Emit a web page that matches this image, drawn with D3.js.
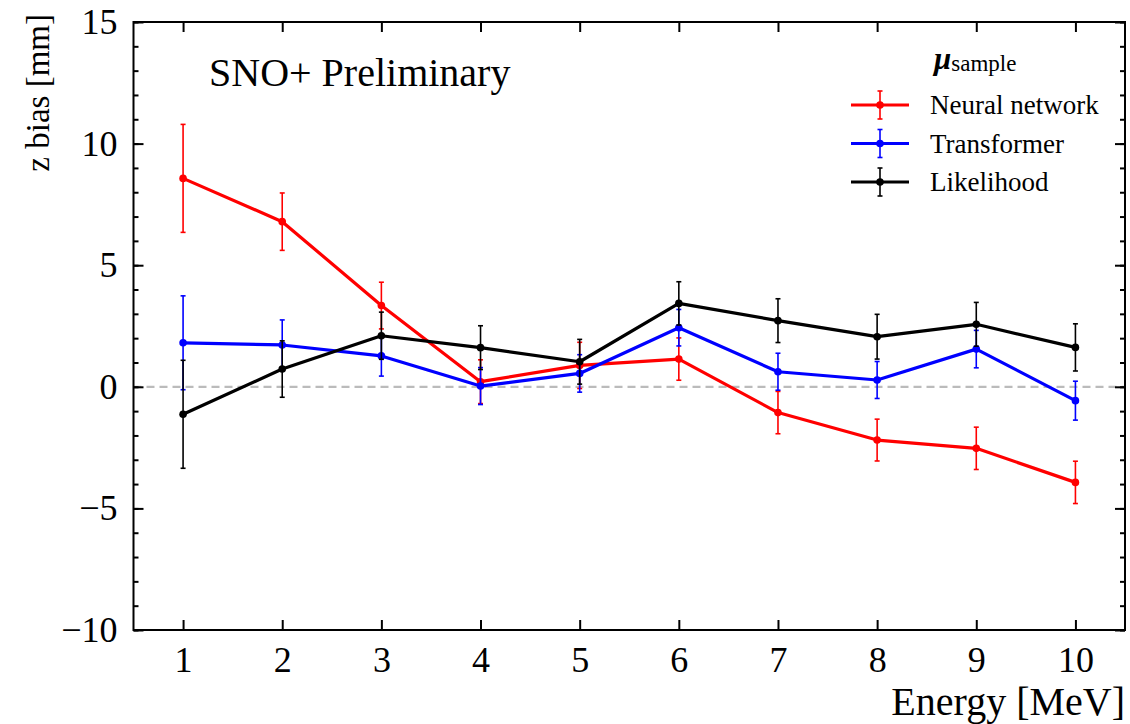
<!DOCTYPE html>
<html><head><meta charset="utf-8">
<script src="https://cdn.jsdelivr.net/npm/d3@7"></script>
<style>
html,body{margin:0;padding:0;background:#fff;}
svg{display:block;}
svg text{font-family:"Liberation Serif","Times New Roman",serif;}
</style></head>
<body><svg id="c" width="1130" height="724"></svg>
<script>
const energy = [1, 2, 3, 4, 5, 6, 7, 8, 9, 10];
const nnVals = [8.57, 6.79, 3.34, 0.21, 0.88, 1.14, -1.06, -2.19, -2.53, -3.93];
const nnErr  = [2.22, 1.18, 0.96, 0.90, 0.95, 0.87, 0.87, 0.86, 0.87, 0.87];
const trVals = [1.81, 1.72, 1.27, 0.03, 0.55, 2.43, 0.62, 0.28, 1.55, -0.57];
const trErr  = [1.93, 1.03, 0.83, 0.76, 0.77, 0.75, 0.76, 0.76, 0.77, 0.80];
const lkVals = [-1.13, 0.73, 2.10, 1.61, 1.03, 3.43, 2.72, 2.06, 2.57, 1.62];
const lkErr  = [2.22, 1.16, 0.97, 0.90, 0.92, 0.89, 0.90, 0.92, 0.90, 0.97];
const seriesNames = ["Neural network", "Transformer", "Likelihood"];
const seriesColors = ["#ff0000", "#0000ff", "#000000"];
const xTicks = [1, 2, 3, 4, 5, 6, 7, 8, 9, 10];
const yTicks = [-10, -5, 0, 5, 10, 15];
const yMinor = d3.range(-10, 15.01, 1);

const series = [
  {name: seriesNames[0], color: seriesColors[0], vals: nnVals, err: nnErr},
  {name: seriesNames[1], color: seriesColors[1], vals: trVals, err: trErr},
  {name: seriesNames[2], color: seriesColors[2], vals: lkVals, err: lkErr}
];

const FONT = "Liberation Serif, Times New Roman, serif";
const svg = d3.select("#c");
const L = 133.5, R = 1125, T = 22, B = 630;
const x = d3.scaleLinear().domain([0.5, 10.5]).range([L, R]);
const y = d3.scaleLinear().domain([-10, 15]).range([B, T]);

// zero line
svg.append("line").attr("x1", L).attr("x2", R).attr("y1", y(0)).attr("y2", y(0))
  .attr("stroke", "#bbbbbb").attr("stroke-width", 2.2).attr("stroke-dasharray", "8,5");

const line = d3.line().x((d, i) => x(energy[i])).y(d => y(d));
series.forEach(s => {
  const g = svg.append("g");
  g.append("path").datum(s.vals).attr("d", line).attr("fill", "none")
    .attr("stroke", s.color).attr("stroke-width", 3.2).attr("stroke-linejoin", "round");
  g.selectAll("circle").data(s.vals).enter().append("circle")
    .attr("cx", (d, i) => x(energy[i])).attr("cy", d => y(d)).attr("r", 3.8).attr("fill", s.color);
  s.vals.forEach((v, i) => {
    const cx = x(energy[i]);
    const y1 = y(v + s.err[i]), y2 = y(v - s.err[i]);
    g.append("line").attr("x1", cx).attr("x2", cx).attr("y1", y1).attr("y2", y2)
      .attr("stroke", s.color).attr("stroke-width", 1.6);
    [y1, y2].forEach(yy => g.append("line").attr("x1", cx - 2.5).attr("x2", cx + 2.5)
      .attr("y1", yy).attr("y2", yy).attr("stroke", s.color).attr("stroke-width", 1.6));
  });
});

// axes frame
svg.append("rect").attr("x", L).attr("y", T).attr("width", R - L).attr("height", B - T)
  .attr("fill", "none").attr("stroke", "#000").attr("stroke-width", 2);

const xb = d3.axisBottom(x).tickValues(xTicks).tickSize(-10).tickPadding(16).tickFormat(d3.format("d"));
const gxb = svg.append("g").attr("transform", `translate(0,${B})`).call(xb);
const xt = d3.axisTop(x).tickValues(xTicks).tickSize(-10).tickFormat("");
const gxt = svg.append("g").attr("transform", `translate(0,${T})`).call(xt);
const fmtY = d => (d < 0 ? "\u2212" + Math.abs(d) : "" + d);
const yl = d3.axisLeft(y).tickValues(yTicks).tickSize(-10).tickPadding(16).tickFormat(fmtY);
const gyl = svg.append("g").attr("transform", `translate(${L},0)`).call(yl);
const ylm = d3.axisLeft(y).tickValues(yMinor).tickSize(-5).tickFormat("");
const gylm = svg.append("g").attr("transform", `translate(${L},0)`).call(ylm);
const yr = d3.axisRight(y).tickValues(yTicks).tickSize(-10).tickFormat("");
const gyr = svg.append("g").attr("transform", `translate(${R},0)`).call(yr);
const yrm = d3.axisRight(y).tickValues(yMinor).tickSize(-5).tickFormat("");
const gyrm = svg.append("g").attr("transform", `translate(${R},0)`).call(yrm);
[gxb, gxt, gyl, gylm, gyr, gyrm].forEach(g => {
  g.attr("font-family", FONT);
  g.select(".domain").remove();
  g.selectAll(".tick line").attr("stroke", "#000").attr("stroke-width", 2);
  g.selectAll(".tick text").attr("fill", "#000").attr("font-size", 36).attr("font-family", FONT);
});
gxb.selectAll(".tick text").attr("dy", "0.71em");

// labels
svg.append("text").attr("x", R).attr("y", 715).attr("text-anchor", "end")
  .attr("font-family", FONT).attr("font-size", 40).text("Energy [MeV]");
svg.append("text").attr("transform", "translate(49,14) rotate(-90)").attr("text-anchor", "end")
  .attr("font-family", FONT).attr("font-size", 33).text("z bias [mm]");
svg.append("text").attr("x", 209).attr("y", 86).attr("font-family", FONT)
  .attr("font-size", 40).text("SNO+ Preliminary");

// legend
const lg = svg.append("g").attr("font-family", FONT);
const tt = lg.append("text").attr("x", 934).attr("y", 69).attr("font-family", FONT);
tt.append("tspan").attr("font-style", "italic").attr("font-weight", "bold").attr("font-size", 31).text("\u03bc");
tt.append("tspan").attr("font-size", 23).attr("dy", 2).text("sample");
const rowY = [105, 143.5, 182];
series.forEach((s, i) => {
  const cy = rowY[i];
  lg.append("line").attr("x1", 851).attr("x2", 909).attr("y1", cy).attr("y2", cy)
    .attr("stroke", s.color).attr("stroke-width", 3.2);
  lg.append("circle").attr("cx", 880).attr("cy", cy).attr("r", 3.8).attr("fill", s.color);
  lg.append("line").attr("x1", 880).attr("x2", 880).attr("y1", cy - 14).attr("y2", cy + 14)
    .attr("stroke", s.color).attr("stroke-width", 1.6);
  [cy - 14, cy + 14].forEach(yy => lg.append("line").attr("x1", 877.5).attr("x2", 882.5)
    .attr("y1", yy).attr("y2", yy).attr("stroke", s.color).attr("stroke-width", 1.6));
  lg.append("text").attr("x", 930).attr("y", cy + 9).attr("font-family", FONT)
    .attr("font-size", 27).text(s.name);
});
</script></body></html>
